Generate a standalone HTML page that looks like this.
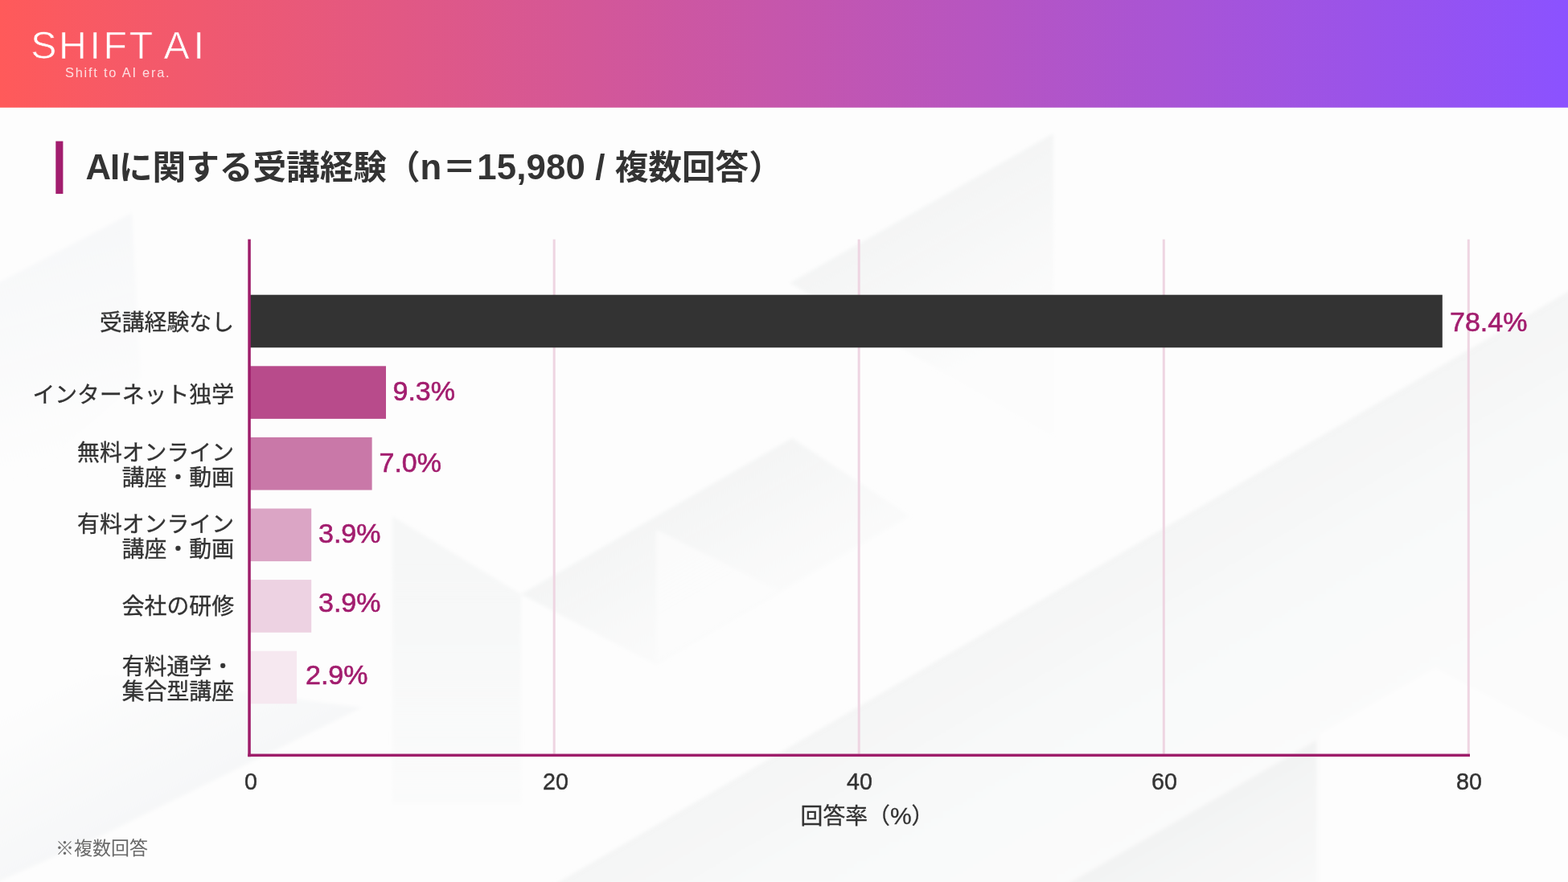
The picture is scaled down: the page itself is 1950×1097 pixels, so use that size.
<!DOCTYPE html>
<html lang="ja">
<head>
<meta charset="utf-8">
<title>AIに関する受講経験</title>
<style>
*{margin:0;padding:0;box-sizing:border-box}
html,body{width:1950px;height:1097px;overflow:hidden;background:#fdfdfd}
body{position:relative;font-family:"Liberation Sans","Noto Sans CJK JP",sans-serif;color:#333}
svg{position:absolute;left:0;top:0;width:1950px;height:1097px;display:block}
.t{position:absolute;white-space:nowrap}
.title{left:106.6px;top:176px;font-size:41.64px;line-height:64px;font-weight:700;color:#333}
.title .l{font-size:43.7px}
.cat{right:1659px;font-size:27.85px;line-height:30.5px;text-align:right;color:#333;-webkit-text-stroke:.35px #333}
.val{font-size:34px;line-height:40px;color:#a21d6e;-webkit-text-stroke:.6px #a21d6e}
.tick{top:955px;width:100px;margin-left:-50px;text-align:center;font-size:30.2px;line-height:34px;color:#333;-webkit-text-stroke:.45px #333;transform:scaleX(.95)}
.xtitle{left:878.5px;top:997px;width:400px;text-align:center;font-size:27.85px;line-height:36px;color:#333;-webkit-text-stroke:.3px #333}
.xtitle .l{font-size:30px}
.note{left:69px;top:1038px;font-size:23px;line-height:34px;color:#6a6a6a}
</style>
</head>
<body>
<svg id="bg" viewBox="0 0 1950 1097" width="1950" height="1097">
<defs>
<linearGradient id="hg" x1="0" y1="0" x2="1950" y2="0" gradientUnits="userSpaceOnUse">
<stop offset="0" stop-color="#ff5a5a"/><stop offset="1" stop-color="#8b52ff"/>
</linearGradient>
<linearGradient id="g2" gradientUnits="userSpaceOnUse" x1="1320" y1="730" x2="1520" y2="1073">
<stop offset="0" stop-color="#f4f5f5"/><stop offset=".3" stop-color="#f8f9f9"/><stop offset="1" stop-color="#fbfbfb"/>
</linearGradient>
<linearGradient id="g1" gradientUnits="userSpaceOnUse" x1="290" y1="960" x2="200" y2="780">
<stop offset="0" stop-color="#f6f7f8"/><stop offset="1" stop-color="#f6f7f8" stop-opacity="0"/>
</linearGradient>
<linearGradient id="g3" gradientUnits="userSpaceOnUse" x1="1190" y1="235" x2="1290" y2="410">
<stop offset="0" stop-color="#f4f5f5"/><stop offset="1" stop-color="#f4f5f5" stop-opacity=".15"/>
</linearGradient>
<linearGradient id="g4" gradientUnits="userSpaceOnUse" x1="80" y1="308" x2="150" y2="560">
<stop offset="0" stop-color="#f7f8f9"/><stop offset="1" stop-color="#f7f8f9" stop-opacity="0"/>
</linearGradient>
<linearGradient id="g5" gradientUnits="userSpaceOnUse" x1="820" y1="640" x2="900" y2="780">
<stop offset="0" stop-color="#f4f5f5"/><stop offset="1" stop-color="#f4f5f5" stop-opacity=".25"/>
</linearGradient>
<linearGradient id="g6" gradientUnits="userSpaceOnUse" x1="0" y1="700" x2="0" y2="1000">
<stop offset="0" stop-color="#f6f7f7"/><stop offset="1" stop-color="#f6f7f7" stop-opacity=".3"/>
</linearGradient>
<linearGradient id="g7" gradientUnits="userSpaceOnUse" x1="1480" y1="1010" x2="1560" y2="1150">
<stop offset="0" stop-color="#f2f3f3"/><stop offset="1" stop-color="#f2f3f3" stop-opacity=".2"/>
</linearGradient>
<filter id="soft" x="-5%" y="-5%" width="110%" height="110%"><feGaussianBlur stdDeviation="2"/></filter>
</defs>
<g id="poly">
<rect x="0" y="0" width="1950" height="1097" fill="#fdfdfd"/>
<g filter="url(#soft)">
<polygon points="690,1100 1960,357 1960,1100" fill="url(#g2)"/>
<polygon points="1640,912 1785,829 1960,923 1960,1100 1640,1100" fill="#fdfdfd" fill-opacity=".85"/>
<polygon points="1327,1100 1637,921 1637,1100" fill="url(#g7)"/>
<polygon points="-10,1100 -10,820 450,880 125,1040" fill="url(#g1)"/>
<polygon points="982,352 1310,166 1310,543" fill="url(#g3)"/>
<polygon points="-10,356 164,265 175,470 -10,640" fill="url(#g4)"/>
<polygon points="648,739 985,545 1132,642 816,827" fill="url(#g5)"/>
<polygon points="816,659 968,734 816,823" fill="#fdfdfd" fill-opacity=".8"/>
<polygon points="488,642 648,739 648,1000 488,1000" fill="url(#g6)"/>
</g>
</g>
<rect x="0" y="0" width="1950" height="133.8" fill="url(#hg)"/>
<text id="logo" x="38.2 73 111.6 128.6 160.8 192 203.6 240.6" y="72.5" font-family="'Liberation Sans',sans-serif" font-size="48.2" fill="#fff" stroke="url(#hg)" stroke-width="0.7">SHIFT AI</text>
<text id="tag" x="81" y="96.1" font-family="'Liberation Sans',sans-serif" font-size="16.4" letter-spacing="1.78" fill="#fff" fill-opacity=".8">Shift to AI era.</text>
<rect x="69.3" y="175.6" width="9.1" height="65.5" fill="#a21d6e"/>
<g id="grid" fill="#eed5e2">
<rect x="687.7" y="297.7" width="3" height="640"/>
<rect x="1066.7" y="297.7" width="3" height="640"/>
<rect x="1445.8" y="297.7" width="3" height="640"/>
<rect x="1824.8" y="297.7" width="3" height="640"/>
</g>
<g id="bars">
<rect x="311" y="366.7" width="1482.8" height="65.6" fill="#333333"/>
<rect x="311" y="455.3" width="169" height="65.6" fill="#b84b8b"/>
<rect x="311" y="543.9" width="151.6" height="65.6" fill="#c978a8"/>
<rect x="311" y="632.5" width="76.2" height="65.6" fill="#dba5c5"/>
<rect x="311" y="721.1" width="76.2" height="65.6" fill="#edd2e2"/>
<rect x="311" y="809.7" width="58.1" height="65.6" fill="#f6e8f0"/>
</g>
<g id="axes" fill="#9e1d6a">
<rect x="308.3" y="297.6" width="3.5" height="643.6"/>
<rect x="308.3" y="937.6" width="1519.7" height="3.5"/>
</g>
</svg>
<div class="t title"><span class="l" style="letter-spacing:-1.2px">AI</span>に関する受講経験（<span class="l" style="margin-right:1.2px">n</span>＝<span class="l" style="margin-left:1.3px;letter-spacing:.15px">15,980 / </span>複数回答）</div>

<div class="t cat" id="c1" style="top:387px">受講経験なし</div>
<div class="t cat" id="c2" style="top:477px">インターネット独学</div>
<div class="t cat" id="c3" style="top:549px">無料オンライン<br>講座・動画</div>
<div class="t cat" id="c4" style="top:638px">有料オンライン<br>講座・動画</div>
<div class="t cat" id="c5" style="top:740px">会社の研修</div>
<div class="t cat" id="c6" style="top:815px">有料通学・<br>集合型講座</div>

<div class="t val" id="v1" style="left:1803px;top:380px">78.4%</div>
<div class="t val" id="v2" style="left:488.5px;top:466px">9.3%</div>
<div class="t val" id="v3" style="left:471.5px;top:555px">7.0%</div>
<div class="t val" id="v4" style="left:396px;top:643px">3.9%</div>
<div class="t val" id="v5" style="left:396px;top:729px">3.9%</div>
<div class="t val" id="v6" style="left:380px;top:819px">2.9%</div>

<div class="t tick" id="k0" style="left:311.5px">0</div>
<div class="t tick" id="k1" style="left:690.5px">20</div>
<div class="t tick" id="k2" style="left:1068.7px">40</div>
<div class="t tick" id="k3" style="left:1447.8px">60</div>
<div class="t tick" id="k4" style="left:1826.8px">80</div>
<div class="t xtitle" id="xt">回答率（<span class="l">%</span>）</div>
<div class="t note" id="nt">※複数回答</div>
</body>
</html>
